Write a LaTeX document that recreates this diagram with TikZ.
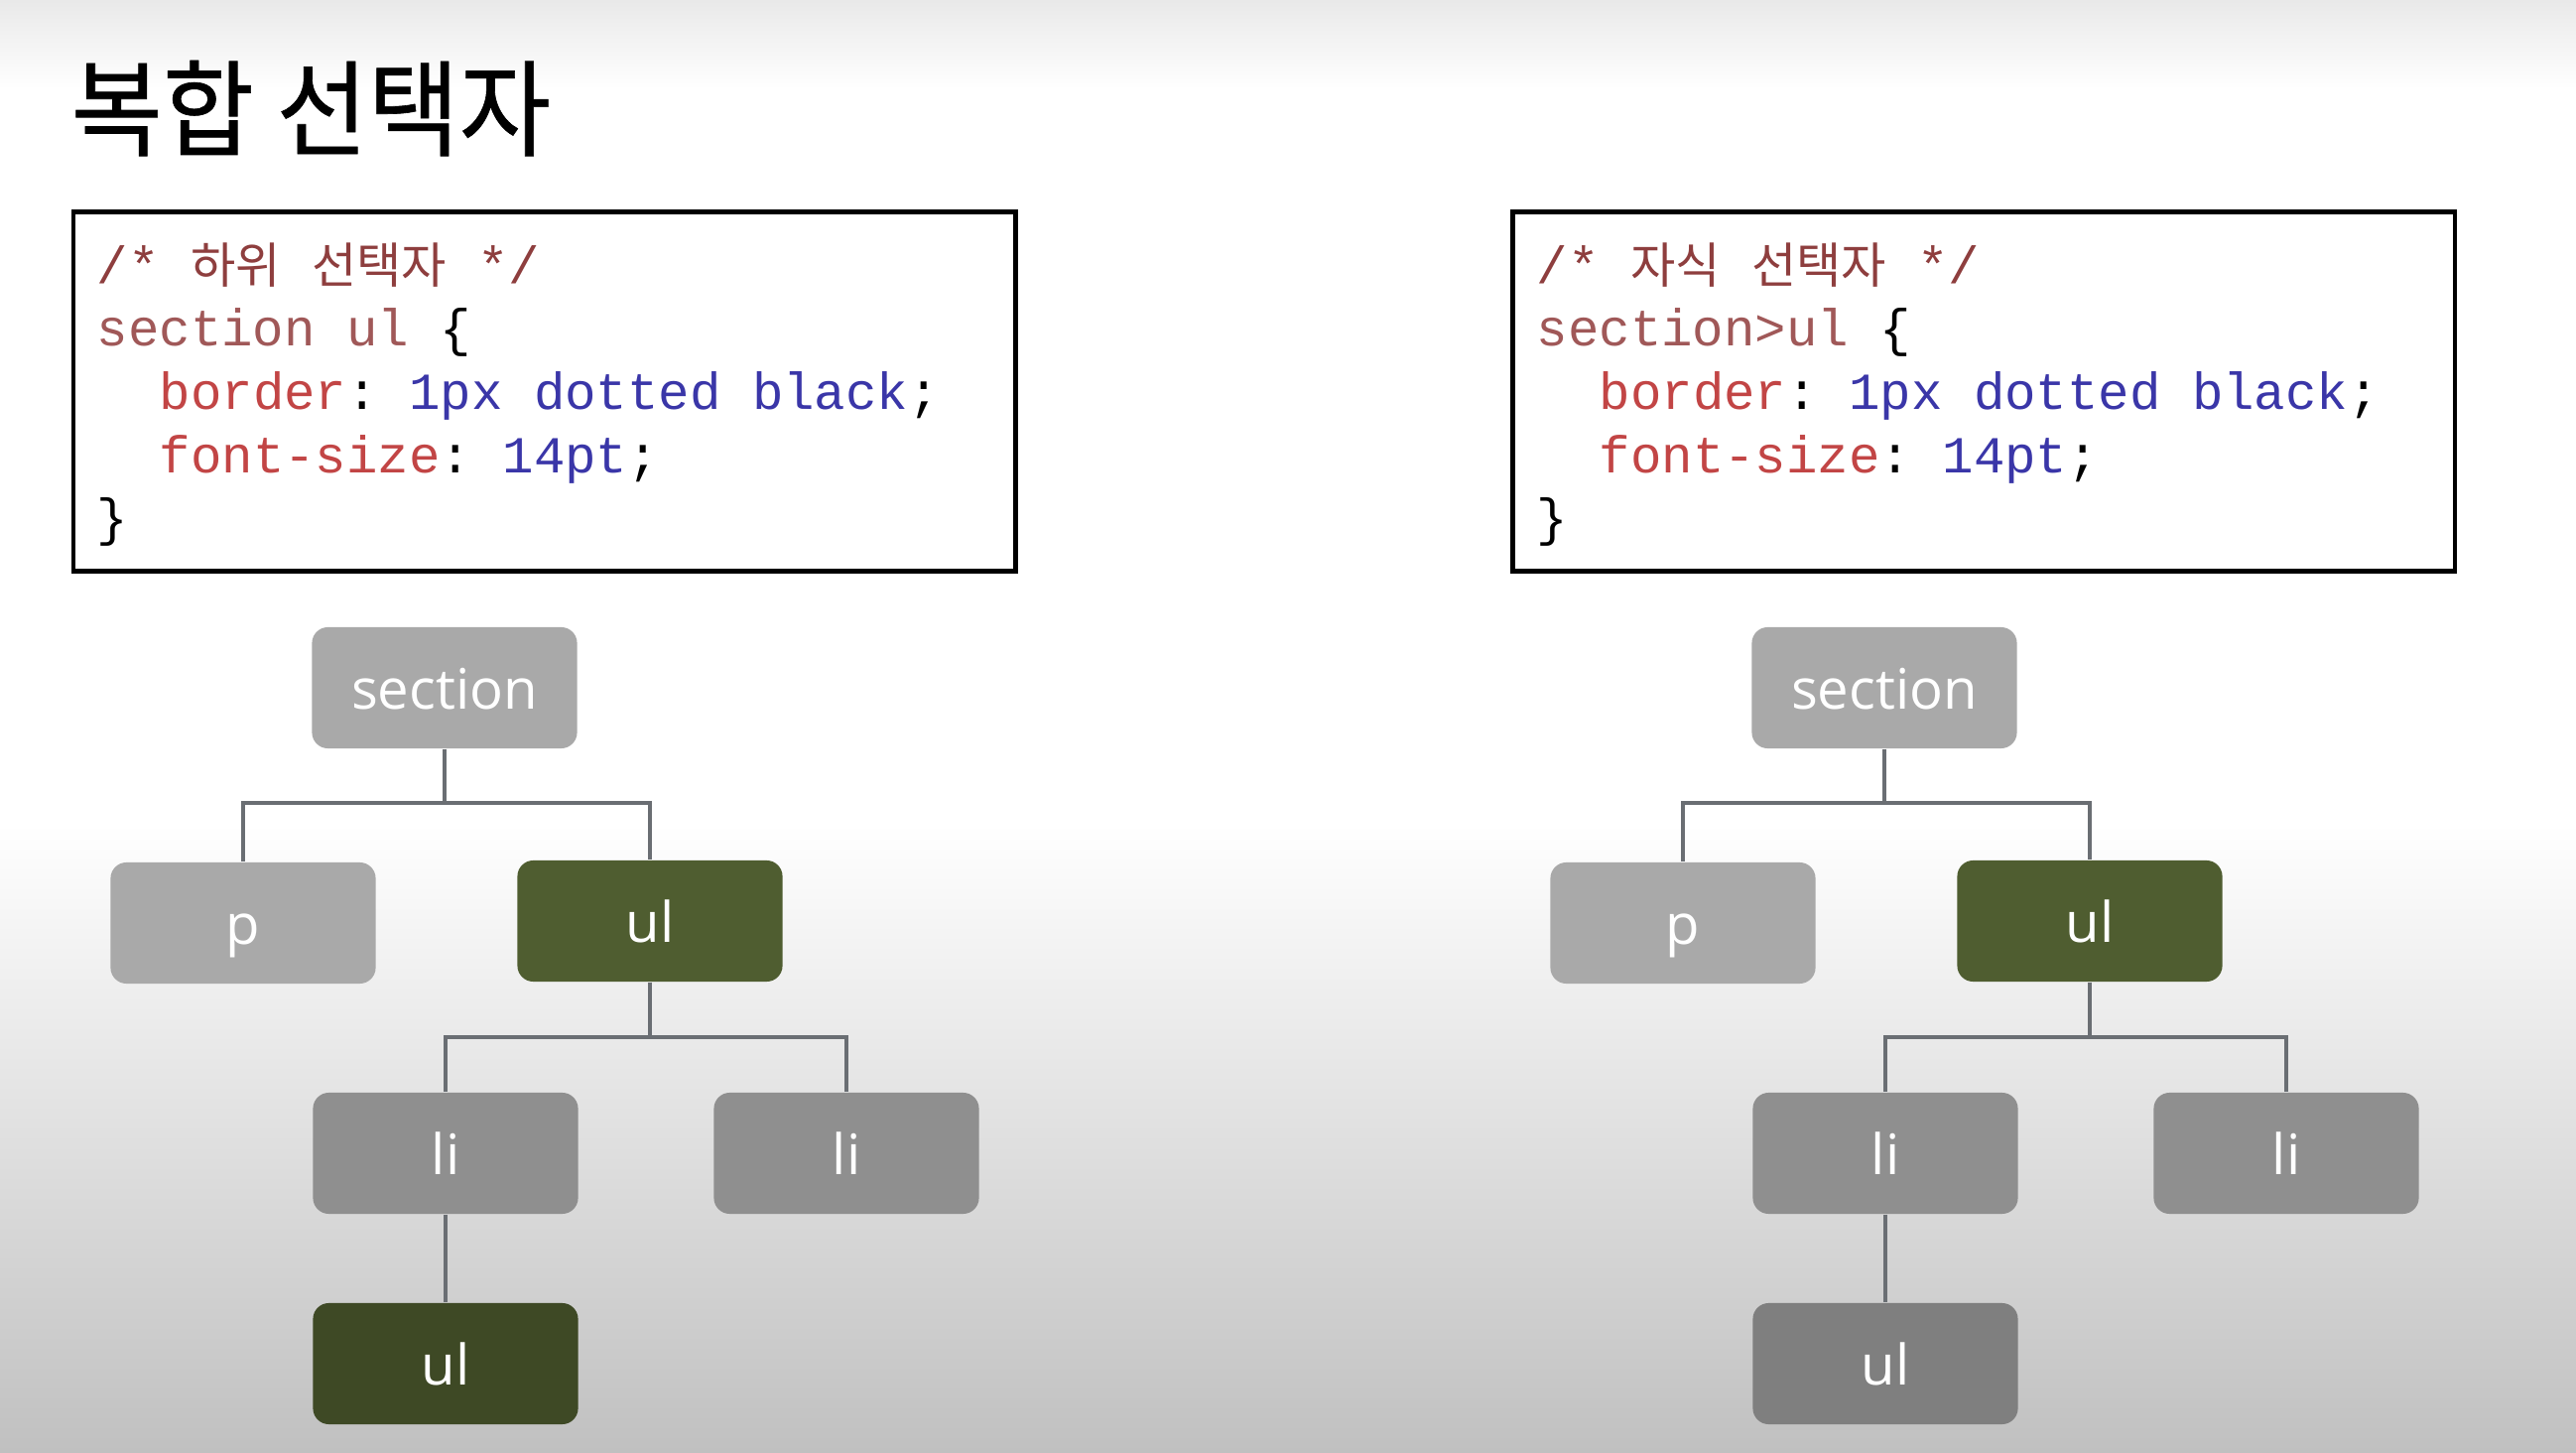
\documentclass[tikz,border=0pt]{standalone}
\usepackage{fontspec}
\setsansfont{Open Sans}
\setmonofont{Liberation Mono}
\newfontfamily\krfont{Noto Sans CJK KR}
\newfontfamily\krtitle[FakeBold=0.6]{Noto Sans CJK KR}

\definecolor{bgtop}{HTML}{E9E9E9}
\definecolor{bgbot}{HTML}{C0C0C0}
\definecolor{cmtred}{HTML}{8E3E3E}
\definecolor{selred}{HTML}{A05858}
\definecolor{propred}{HTML}{C24545}
\definecolor{valblue}{HTML}{3A36A8}
\definecolor{edgegray}{HTML}{6A6E73}
\definecolor{lightbox}{HTML}{A9A9A9}
\definecolor{libox}{HTML}{8F8F8F}
\definecolor{deepgray}{HTML}{7F7F7F}
\definecolor{ulgreen}{HTML}{4F5D30}
\definecolor{deepgreen}{HTML}{3E4925}

\newcommand{\hangul}[1]{{\krfont\fontsize{14}{16}\selectfont #1}}
\newcommand{\csscmt}[1]{\textcolor{cmtred}{#1}}
\newcommand{\csssel}[1]{\textcolor{selred}{#1}}
\newcommand{\cssprop}[1]{\textcolor{propred}{#1}}
\newcommand{\cssval}[1]{\textcolor{valblue}{#1}}

\tikzset{
  tag/.style={rounded corners=0.16cm, minimum width=2.67cm, minimum height=1.22cm,
    inner sep=0pt, text=white, text height=12.5pt, text depth=0pt,
    font=\sffamily\fontsize{16}{19}\selectfont},
  codebox/.style={draw, line width=1.2pt, minimum width=9.49cm, minimum height=3.62cm, inner sep=0pt},
  codeline/.style={anchor=base west, inner sep=0pt, font=\ttfamily\fontsize{14.9}{18}\selectfont},
  link/.style={draw=edgegray, line width=1pt}
}

\begin{document}
\begin{tikzpicture}[x=0.01cm, y=-0.01cm]
  % background
  \fill [white] (0, 0) rectangle (2596, 1464);
  \shade [top color=bgtop, bottom color=white] (0, 0) rectangle (2596, 90);
  \shade [top color=white, bottom color=bgbot] (0, 830) rectangle (2596, 1464);
  \useasboundingbox (0, 0) rectangle (2596, 1464);

  \node [anchor=base west, inner sep=0pt, xscale=0.95, font=\krtitle\fontsize{30}{36}\selectfont] (title) at (71, 149) {복합 선택자};

  % code boxes
  \node [codebox] (descbox) at (548.75, 394.5) {};
  \node [codeline] (descA) at (97, 286) {\csscmt{/* \hangul{하위} \hangul{선택자} */}};
  \node [codeline] (descB) at (97, 349) {\csssel{section ul} \{};
  \node [codeline] (descC) at (160, 413) {\cssprop{border}: \cssval{1px dotted black};};
  \node [codeline] (descD) at (160, 477) {\cssprop{font-size}: \cssval{14pt};};
  \node [codeline] (descE) at (97, 540) {\}};

  \node [codebox] (childbox) at (1999.25, 394.5) {};
  \node [codeline] (childA) at (1548, 286) {\csscmt{/* \hangul{자식} \hangul{선택자} */}};
  \node [codeline] (childB) at (1548, 349) {\csssel{section>ul} \{};
  \node [codeline] (childC) at (1611, 413) {\cssprop{border}: \cssval{1px dotted black};};
  \node [codeline] (childD) at (1611, 477) {\cssprop{font-size}: \cssval{14pt};};
  \node [codeline] (childE) at (1548, 540) {\}};

  % trees
  \foreach \dx/\t/\deep in {0/A/deepgreen, 1451/B/deepgray} {
    \node [tag, fill=lightbox] (sec\t) at ({448+\dx}, 693) {section};
    \node [tag, fill=lightbox] (p\t) at ({245+\dx}, 930) {p};
    \node [tag, fill=ulgreen] (ul\t) at ({655+\dx}, 928) {ul};
    \node [tag, fill=libox] (lia\t) at ({449+\dx}, 1162) {li};
    \node [tag, fill=libox] (lib\t) at ({853+\dx}, 1162) {li};
    \node [tag, fill=\deep] (ulb\t) at ({449+\dx}, 1374) {ul};
    \coordinate (top\t) at (0, 809);
    \coordinate (mid\t) at (0, 1045);
    \draw [link] (sec\t.south) -- (sec\t.south |- top\t) -| (p\t.north);
    \draw [link] (sec\t.south |- top\t) -| (ul\t.north);
    \draw [link] (ul\t.south) -- (ul\t.south |- mid\t) -| (lia\t.north);
    \draw [link] (ul\t.south |- mid\t) -| (lib\t.north);
    \draw [link] (lia\t.south) -- (ulb\t.north);
  }
\end{tikzpicture}
\end{document}
